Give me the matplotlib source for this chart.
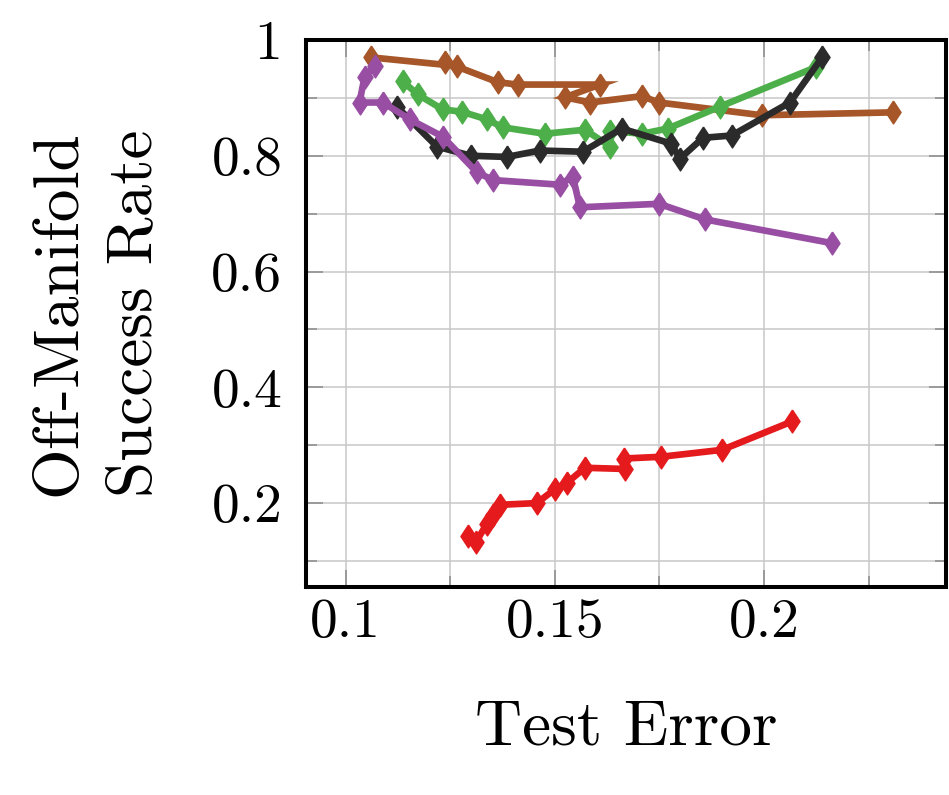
import matplotlib
matplotlib.use("Agg")
import matplotlib.pyplot as plt
from matplotlib.ticker import MultipleLocator, FixedFormatter, FixedLocator

# Test error (x) and off-manifold success rate (y) per run
brown_x = [0.1060, 0.1266, 0.1237, 0.1364, 0.1411, 0.1608, 0.1524, 0.1584,
           0.1708, 0.1749, 0.1995, 0.2309]
brown_y = [0.970, 0.955, 0.962, 0.927, 0.923, 0.923, 0.901, 0.892,
           0.903, 0.892, 0.870, 0.875]

green_x = [0.1136, 0.1172, 0.1232, 0.1278, 0.1337, 0.1376, 0.1476, 0.1572,
           0.1632, 0.1632, 0.1708, 0.1770, 0.1895, 0.2124]
green_y = [0.929, 0.906, 0.880, 0.876, 0.863, 0.849, 0.838, 0.845,
           0.816, 0.843, 0.838, 0.847, 0.885, 0.953]

black_x = [0.1122, 0.1218, 0.1299, 0.1385, 0.1464, 0.1567, 0.1660, 0.1778,
           0.1799, 0.1854, 0.1923, 0.2062, 0.2139]
black_y = [0.885, 0.816, 0.800, 0.798, 0.809, 0.807, 0.847, 0.821,
           0.795, 0.831, 0.835, 0.892, 0.970]

purple_x = [0.1069, 0.1045, 0.1033, 0.1089, 0.1153, 0.1232, 0.1313, 0.1352,
            0.1512, 0.1543, 0.1560, 0.1749, 0.1859, 0.2163]
purple_y = [0.955, 0.936, 0.892, 0.892, 0.863, 0.833, 0.772, 0.758,
            0.750, 0.764, 0.711, 0.717, 0.690, 0.649]

red_x = [0.1292, 0.1311, 0.1337, 0.1352, 0.1368, 0.1457, 0.1500, 0.1529,
         0.1572, 0.1667, 0.1665, 0.1754, 0.1900, 0.2067]
red_y = [0.144, 0.132, 0.164, 0.179, 0.197, 0.200, 0.224, 0.235,
         0.261, 0.259, 0.277, 0.280, 0.292, 0.341]

x_ticks = [0.1, 0.15, 0.2]
x_tick_labels = ["0.1", "0.15", "0.2"]
y_ticks = [0.2, 0.4, 0.6, 0.8, 1.0]
y_tick_labels = ["0.2", "0.4", "0.6", "0.8", "1"]

series = [
    (brown_x, brown_y, "#a65628"),
    (green_x, green_y, "#4daf4a"),
    (black_x, black_y, "#2b2b2b"),
    (purple_x, purple_y, "#984ea3"),
    (red_x, red_y, "#e41a1c"),
]

plt.rcParams["font.family"] = ["cmr10", "DejaVu Serif"]
plt.rcParams["mathtext.fontset"] = "cm"
plt.rcParams["axes.unicode_minus"] = False

fig = plt.figure(figsize=(9.49, 7.95), dpi=100)
ax = fig.add_axes([0.3224, 0.2616, 0.6744, 0.6881])

diamond = [(0, 1), (0.66, 0), (0, -1), (-0.66, 0), (0, 1)]
for xs, ys, color in series:
    ax.plot(xs, ys, color=color, linewidth=4.8, marker=diamond,
            markersize=16.5, markeredgewidth=1.0,
            solid_joinstyle="miter", zorder=3)

ax.set_xlim(0.0905, 0.2435)
ax.set_ylim(0.055, 1.0)

ax.xaxis.set_major_locator(FixedLocator(x_ticks))
ax.xaxis.set_major_formatter(FixedFormatter(x_tick_labels))
ax.xaxis.set_minor_locator(MultipleLocator(0.025))
ax.yaxis.set_major_locator(FixedLocator(y_ticks))
ax.yaxis.set_major_formatter(FixedFormatter(y_tick_labels))
ax.yaxis.set_minor_locator(MultipleLocator(0.1))

ax.grid(True, which="both", color="#c8c8c8", linewidth=1.1, zorder=0)
ax.set_axisbelow(True)

ax.tick_params(which="both", direction="in", top=True, right=True,
               color="#8a8a8a", width=1.1, labelsize=40)
ax.tick_params(axis="y", pad=17)
ax.tick_params(axis="x", pad=8)
ax.tick_params(which="major", length=12)
ax.tick_params(which="minor", length=8)

for spine in ax.spines.values():
    spine.set_linewidth(2.9)
    spine.set_color("black")
    spine.set_zorder(5)

ax.set_xlabel("Test Error", fontsize=47)
ax.xaxis.set_label_coords(0.5, -0.205)
ax.set_ylabel("Off-Manifold\nSuccess Rate", fontsize=47, linespacing=1.4)
ax.yaxis.set_label_coords(-0.222, 0.5)

fig.savefig("out.png", dpi=100)
